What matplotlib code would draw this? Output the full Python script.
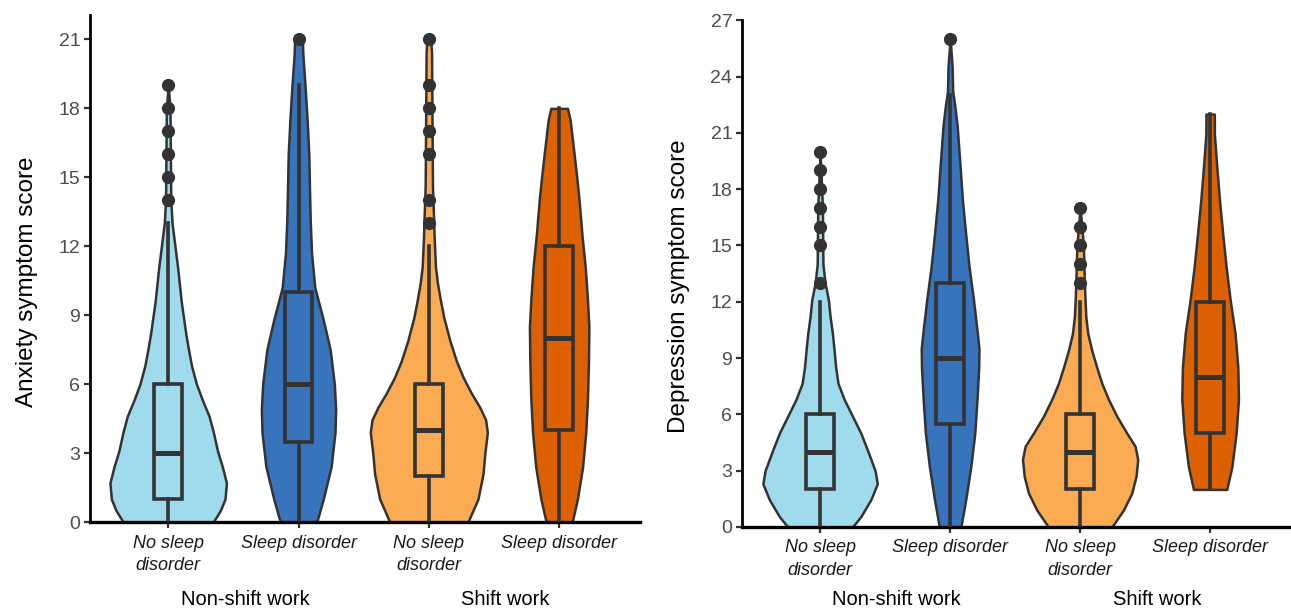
import numpy as np
import matplotlib
matplotlib.use("Agg")
import matplotlib.pyplot as plt
from matplotlib.transforms import blended_transform_factory

plt.rcParams['font.family'] = ['Liberation Sans', 'DejaVu Sans']

# categories / groups
tick_labels = ["No sleep\ndisorder", "Sleep disorder", "No sleep\ndisorder", "Sleep disorder"]
group_labels = ["Non-shift work", "Shift work"]
colors = ["#a0dbed", "#3874bb", "#fbab52", "#dd6100"]
edge = "#333333"

# violin outlines: score levels and half widths (x units)
anx_y = [
    [0, 0.5, 1, 1.7, 2.4, 3.1, 3.9, 4.6, 5.3, 6.0, 6.8, 7.5, 8.2, 9.6, 11.1, 12.5, 13.0, 14, 16, 18, 19],
    [0, 1, 2.4, 3.9, 4.9, 6.0, 7.5, 8.8, 10.2, 11.7, 13.1, 14.6, 16.0, 17.5, 18.9, 20.4, 21],
    [0, 1, 2.1, 3.0, 3.9, 4.45, 5.0, 5.6, 6.3, 7.0, 7.9, 8.9, 9.65, 10.4, 11.1, 12.5, 13, 14.6, 17, 20.4, 21],
    [0, 1, 2.4, 3.9, 5.3, 7.0, 8.5, 9.7, 11.1, 12.5, 14.0, 15.0, 16.0, 17.5, 18],
]
anx_w = [
    [0.345, 0.40, 0.436, 0.447, 0.416, 0.378, 0.347, 0.314, 0.263, 0.217, 0.179, 0.156, 0.135, 0.10, 0.072, 0.041, 0.03, 0.02, 0.017, 0.014, 0.0],
    [0.14, 0.19, 0.25, 0.28, 0.285, 0.275, 0.243, 0.19, 0.125, 0.10, 0.09, 0.084, 0.079, 0.066, 0.051, 0.033, 0.03],
    [0.30, 0.377, 0.416, 0.43, 0.449, 0.436, 0.39, 0.327, 0.263, 0.212, 0.161, 0.115, 0.089, 0.066, 0.051, 0.04, 0.038, 0.028, 0.025, 0.021, 0.015],
    [0.10, 0.14, 0.18, 0.204, 0.217, 0.225, 0.228, 0.217, 0.20, 0.175, 0.153, 0.135, 0.115, 0.084, 0.064],
]
dep_y = [
    [0, 0.55, 1.45, 2.3, 3.0, 4.1, 5.0, 5.9, 6.8, 7.65, 8.5, 9.4, 10.3, 11.2, 12.1, 13.0, 14, 17, 20],
    [0, 1.45, 3.2, 5.0, 6.8, 8.5, 9.5, 10.3, 12.1, 13.85, 15.6, 17.4, 19.2, 21.4, 22.5, 23.2, 24.5, 26],
    [0, 0.9, 1.8, 2.7, 3.6, 4.3, 5.0, 5.9, 6.8, 7.65, 8.5, 9.4, 10.3, 11.2, 12.1, 13.0, 15, 17],
    [2, 3.2, 5.0, 6.8, 8.5, 10.3, 12.1, 13.85, 15.6, 17.4, 19.2, 20.9, 22],
]
dep_w = [
    [0.249, 0.313, 0.39, 0.44, 0.423, 0.364, 0.313, 0.249, 0.185, 0.138, 0.12, 0.108, 0.095, 0.077, 0.064, 0.038, 0.022, 0.018, 0.0],
    [0.083, 0.12, 0.159, 0.19, 0.207, 0.22, 0.222, 0.21, 0.18, 0.146, 0.12, 0.095, 0.077, 0.054, 0.035, 0.02, 0.016, 0.0],
    [0.244, 0.333, 0.397, 0.43, 0.443, 0.423, 0.359, 0.282, 0.218, 0.167, 0.128, 0.09, 0.059, 0.044, 0.038, 0.033, 0.025, 0.0],
    [0.128, 0.167, 0.2, 0.218, 0.213, 0.192, 0.154, 0.123, 0.097, 0.072, 0.051, 0.033, 0.032],
]

# box statistics
anx_q1 = [1, 3.5, 2, 4]
anx_med = [3, 6, 4, 8]
anx_q3 = [6, 10, 6, 12]
anx_lo = [0, 0, 0, 0]
anx_hi = [13, 19, 12, 18]
anx_out = [[14, 15, 16, 17, 18, 19], [21], [13, 14, 16, 17, 18, 19, 21], []]
anx_ticks = [0, 3, 6, 9, 12, 15, 18, 21]

dep_q1 = [2, 5.5, 2, 5]
dep_med = [4, 9, 4, 8]
dep_q3 = [6, 13, 6, 12]
dep_lo = [0, 0, 0, 2]
dep_hi = [12, 23, 12, 22]
dep_out = [[13, 15, 16, 17, 18, 19, 20], [26], [13, 14, 15, 16, 17], []]
dep_ticks = [0, 3, 6, 9, 12, 15, 18, 21, 24, 27]


def draw_panel(ax, vy, vw, q1, med, q3, lo, hi, out, ymax, yticks, ylabel, group_y):
    pos = [1, 2, 3, 4]
    for i in range(4):
        y = np.array(vy[i])
        w = np.array(vw[i])
        ax.fill_betweenx(y, pos[i] - w, pos[i] + w, facecolor=colors[i],
                         edgecolor=edge, linewidth=1.8, zorder=2)
    stats = []
    for i in range(4):
        stats.append(dict(med=med[i], q1=q1[i], q3=q3[i], whislo=lo[i],
                          whishi=hi[i], fliers=out[i]))
    bp = ax.bxp(stats, positions=pos, widths=0.21, patch_artist=True,
                showcaps=False, manage_ticks=False,
                boxprops=dict(edgecolor=edge, linewidth=2.6),
                whiskerprops=dict(color=edge, linewidth=2.6),
                medianprops=dict(color=edge, linewidth=3.6),
                flierprops=dict(marker="o", markerfacecolor=edge,
                                markeredgecolor=edge, markersize=8.5))
    for patch, c in zip(bp["boxes"], colors):
        patch.set_facecolor(c)
        patch.set_zorder(3)
    for key in ["whiskers", "medians", "fliers"]:
        for art in bp[key]:
            art.set_zorder(4)

    ax.set_xlim(0.4, 4.62)
    ax.set_ylim(0, ymax)
    ax.set_yticks(yticks)
    ax.set_xticks(pos)
    ax.set_xticklabels(tick_labels, style="italic", fontsize=13,
                       linespacing=1.4, color="#1a1a1a")
    ax.tick_params(axis="both", colors=edge, length=4, width=1.6)
    ax.tick_params(axis="y", labelsize=14, pad=3, labelcolor="#4d4d4d")
    ax.tick_params(axis="x", pad=5, labelcolor="#1a1a1a")
    for s in ["top", "right"]:
        ax.spines[s].set_visible(False)
    ax.spines["left"].set_linewidth(2)
    ax.spines["bottom"].set_linewidth(2.4)
    ax.spines["left"].set_color("black")
    ax.spines["bottom"].set_color("black")
    ax.set_ylabel(ylabel, fontsize=17.5, color="black")
    ax.yaxis.set_label_coords(-0.095, 0.475)

    trans = blended_transform_factory(ax.transData, ax.transAxes)
    ax.text(1.59, group_y, group_labels[0], transform=trans, ha="center",
            va="center", fontsize=14.5)
    ax.text(3.59, group_y, group_labels[1], transform=trans, ha="center",
            va="center", fontsize=14.5)


fig = plt.figure(figsize=(12.91, 6.12), dpi=100)
ax1 = fig.add_axes([0.0697, 0.147, 0.426, 0.828])
ax2 = fig.add_axes([0.5748, 0.139, 0.425, 0.828])

draw_panel(ax1, anx_y, anx_w, anx_q1, anx_med, anx_q3, anx_lo, anx_hi,
           anx_out, 22.05, anx_ticks, "Anxiety symptom score", -0.153)
draw_panel(ax2, dep_y, dep_w, dep_q1, dep_med, dep_q3, dep_lo, dep_hi,
           dep_out, 27, dep_ticks, "Depression symptom score", -0.143)

fig.savefig("out.png", dpi=100)
